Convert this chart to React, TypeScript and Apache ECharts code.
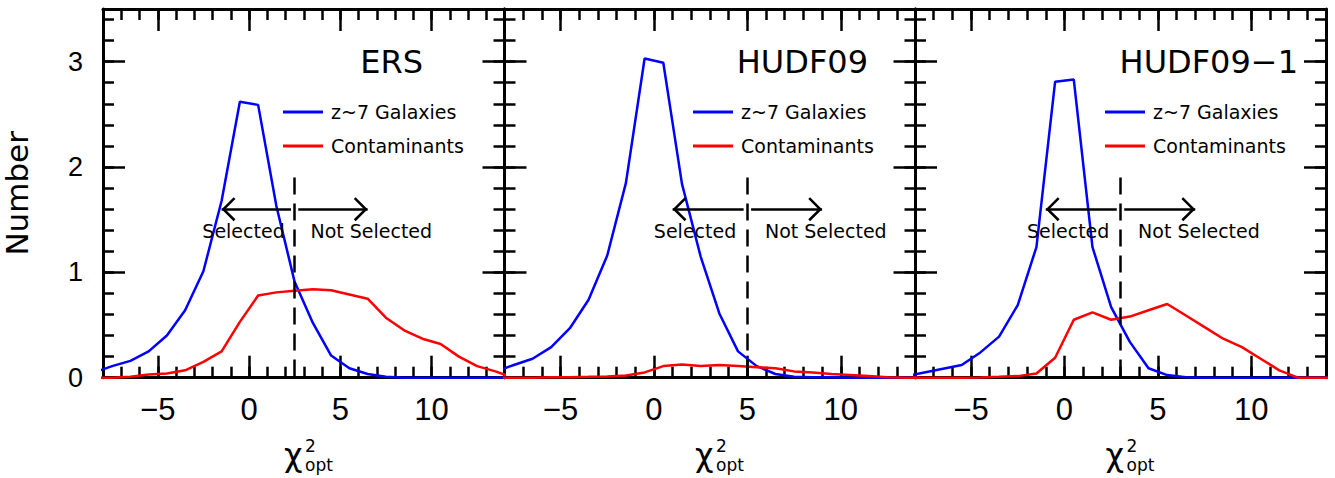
import React, { useEffect, useRef } from 'react';
import * as echarts from 'echarts';

// ---- data (bin centres and per-bin numbers) ----
const binCenters = [-8.5, -7.5, -6.5, -5.5, -4.5, -3.5, -2.5, -1.5, -0.5, 0.5, 1.5, 2.5, 3.5, 4.5, 5.5, 6.5, 7.5, 8.5, 9.5, 10.5, 11.5, 12.5, 13.5, 14.5];

const ersGalaxies = [0.05, 0.11, 0.16, 0.25, 0.40, 0.64, 1.01, 1.68, 2.62, 2.59, 1.63, 0.91, 0.52, 0.21, 0.09, 0.035, 0.01, 0, 0, 0, 0, 0, 0, 0];
const ersContaminants = [0, 0, 0.01, 0.03, 0.04, 0.07, 0.15, 0.25, 0.53, 0.78, 0.81, 0.825, 0.84, 0.83, 0.79, 0.75, 0.57, 0.45, 0.37, 0.32, 0.2, 0.11, 0.06, 0];

const hudfGalaxies = [0.06, 0.12, 0.18, 0.29, 0.47, 0.74, 1.16, 1.85, 3.03, 2.99, 1.84, 1.15, 0.61, 0.25, 0.11, 0.035, 0.01, 0.005, 0.005, 0, 0, 0, 0, 0];
const hudfContaminants = [0, 0, 0, 0.005, 0.005, 0.008, 0.012, 0.02, 0.05, 0.11, 0.125, 0.11, 0.12, 0.11, 0.1, 0.09, 0.06, 0.05, 0.035, 0.025, 0.015, 0.005, 0, 0];

const hudf1Galaxies = [0.015, 0.05, 0.085, 0.12, 0.24, 0.39, 0.69, 1.24, 2.81, 2.83, 1.24, 0.67, 0.34, 0.09, 0.025, 0.005, 0, 0, 0, 0, 0, 0, 0, 0];
const hudf1Contaminants = [0, 0, 0, 0, 0.003, 0.008, 0.015, 0.04, 0.19, 0.55, 0.62, 0.55, 0.58, 0.64, 0.70, 0.59, 0.48, 0.37, 0.29, 0.18, 0.07, 0, 0, 0];

const panelTitles = ['ERS', 'HUDF09', 'HUDF09\u22121'];
const seriesNames = ['z~7 Galaxies', 'Contaminants'];
const galaxySets = [ersGalaxies, hudfGalaxies, hudf1Galaxies];
const contaminantSets = [ersContaminants, hudfContaminants, hudf1Contaminants];
const cutValues = [2.5, 5, 3];
const xTickValues = [-5, 0, 5, 10];
const yTickValues = [0, 1, 2, 3];

// ---- layout / style ----
const X_MIN = -8;
const X_MAX = 14;
const Y_MIN = 0;
const Y_MAX = 3.5;
const GRID_LEFTS = [93.5, 504.5, 915];
const GRID_W = 411;
const GRID_TOP = 9;
const GRID_H = 368.7;
const BLUE = '#0000ff';
const RED = '#ff0000';
const NUM_FONT = '"Liberation Sans", Arial, sans-serif';
const TXT_FONT = '"DejaVu Sans", sans-serif';
const AXIS_W = 3;
const TICK_W = 2.5;
const MAJOR_LEN = 22;
const MINOR_LEN = 11;

// open chevron pointing "up" with its tip at the centre of its bounding box
const CHEVRON =
  'path://M0,12 L12,0 L24,12 L22.2,13.8 L12,3.6 L1.8,13.8 Z M-1.8,-13.8 L-1.79,-13.8 L-1.8,-13.79 Z M25.8,13.8 L25.79,13.8 L25.8,13.79 Z';
const CHEVRON_SIZE = 27.6;

const fmtNum = (v: number) => String(v).replace('-', '\u2212');

function buildOption() {
  const grids: any[] = [];
  const xAxes: any[] = [];
  const yAxes: any[] = [];
  const series: any[] = [];
  const legends: any[] = [];
  const graphics: any[] = [];

  const legendLefts = [283, 693, 1105];
  const titleRights = [423, 868, 1298];

  for (let i = 0; i < 3; i++) {
    grids.push({ left: GRID_LEFTS[i], top: GRID_TOP, width: GRID_W, height: GRID_H, containLabel: false });

    const baseX = {
      type: 'value',
      gridIndex: i,
      min: X_MIN,
      max: X_MAX,
      splitLine: { show: false },
    };
    // bottom major
    xAxes.push({
      ...baseX,
      position: 'bottom',
      axisLine: { show: true, onZero: false, lineStyle: { color: '#000', width: AXIS_W } },
      axisTick: { show: true, inside: true, length: MAJOR_LEN, customValues: xTickValues, lineStyle: { color: '#000', width: TICK_W } },
      axisLabel: {
        show: true,
        customValues: xTickValues,
        margin: 16,
        fontFamily: NUM_FONT,
        fontSize: 31,
        color: '#000',
        formatter: fmtNum,
      },
    });
    // bottom minor
    xAxes.push({
      ...baseX,
      position: 'bottom',
      interval: 1,
      axisLine: { show: false, onZero: false },
      axisTick: { show: true, inside: true, length: MINOR_LEN, lineStyle: { color: '#000', width: TICK_W } },
      axisLabel: { show: false },
    });
    // top major
    xAxes.push({
      ...baseX,
      position: 'top',
      axisLine: { show: true, onZero: false, lineStyle: { color: '#000', width: AXIS_W } },
      axisTick: { show: true, inside: true, length: MAJOR_LEN, customValues: xTickValues, lineStyle: { color: '#000', width: TICK_W } },
      axisLabel: { show: false },
    });
    // top minor
    xAxes.push({
      ...baseX,
      position: 'top',
      interval: 1,
      axisLine: { show: false, onZero: false },
      axisTick: { show: true, inside: true, length: MINOR_LEN, lineStyle: { color: '#000', width: TICK_W } },
      axisLabel: { show: false },
    });

    const baseY = {
      type: 'value',
      gridIndex: i,
      min: Y_MIN,
      max: Y_MAX,
      splitLine: { show: false },
    };
    // left major
    yAxes.push({
      ...baseY,
      position: 'left',
      axisLine: { show: true, onZero: false, lineStyle: { color: '#000', width: AXIS_W } },
      axisTick: { show: true, inside: true, length: MAJOR_LEN, customValues: yTickValues, lineStyle: { color: '#000', width: TICK_W } },
      axisLabel: {
        show: i === 0,
        customValues: yTickValues,
        margin: 20,
        fontFamily: NUM_FONT,
        fontSize: 27,
        color: '#000',
      },
      name: i === 0 ? 'Number' : '',
      nameLocation: 'middle',
      nameGap: 71,
      nameRotate: 90,
      nameTextStyle: { fontFamily: TXT_FONT, fontSize: 31, color: '#000' },
    });
    // left minor
    yAxes.push({
      ...baseY,
      position: 'left',
      interval: 0.2,
      axisLine: { show: false, onZero: false },
      axisTick: { show: true, inside: true, length: MINOR_LEN, lineStyle: { color: '#000', width: TICK_W } },
      axisLabel: { show: false },
    });
    // right major
    yAxes.push({
      ...baseY,
      position: 'right',
      axisLine: { show: true, onZero: false, lineStyle: { color: '#000', width: AXIS_W } },
      axisTick: { show: true, inside: true, length: MAJOR_LEN, customValues: yTickValues, lineStyle: { color: '#000', width: TICK_W } },
      axisLabel: { show: false },
    });
    // right minor
    yAxes.push({
      ...baseY,
      position: 'right',
      interval: 0.2,
      axisLine: { show: false, onZero: false },
      axisTick: { show: true, inside: true, length: MINOR_LEN, lineStyle: { color: '#000', width: TICK_W } },
      axisLabel: { show: false },
    });

    const cut = cutValues[i];
    const galaxies = galaxySets[i];
    const contaminants = contaminantSets[i];

    series.push({
      type: 'line',
      name: seriesNames[0],
      xAxisIndex: 4 * i,
      yAxisIndex: 4 * i,
      data: binCenters.map((x, k) => [x, galaxies[k]]),
      showSymbol: false,
      symbol: 'none',
      clip: true,
      z: 3,
      color: BLUE,
      lineStyle: { color: BLUE, width: 2.5 },
      markLine: {
        silent: true,
        symbol: 'none',
        label: { show: false },
        emphasis: { disabled: true },
        lineStyle: { color: '#000', width: 2.5, type: 'solid' },
        data: [
          [
            { coord: [cut, 1.9], lineStyle: { color: '#000', width: 2.5, type: [17, 9] } },
            { coord: [cut, 0] },
          ],
          [
            { coord: [cut - 0.2, 1.6], symbol: 'none' },
            { coord: [cut - 4, 1.6], symbol: CHEVRON, symbolSize: CHEVRON_SIZE },
          ],
          [
            { coord: [cut + 0.2, 1.6], symbol: 'none' },
            { coord: [cut + 4, 1.6], symbol: CHEVRON, symbolSize: CHEVRON_SIZE },
          ],
        ],
      },
      markPoint: {
        silent: true,
        symbol: 'circle',
        symbolSize: 1,
        itemStyle: { color: 'rgba(0,0,0,0)' },
        label: {
          show: true,
          position: 'inside',
          color: '#000',
          fontFamily: TXT_FONT,
          fontSize: 19,
          formatter: '{b}',
        },
        data: [
          { name: 'Selected', coord: [cut - 2.8, 1.39] },
          { name: 'Not Selected', coord: [cut + 4.2, 1.39] },
        ],
      },
    });
    series.push({
      type: 'line',
      name: seriesNames[1],
      xAxisIndex: 4 * i,
      yAxisIndex: 4 * i,
      data: binCenters.map((x, k) => [x, contaminants[k]]),
      showSymbol: false,
      symbol: 'none',
      clip: true,
      z: 3,
      color: RED,
      lineStyle: { color: RED, width: 2.5 },
    });

    legends.push({
      data: seriesNames,
      orient: 'vertical',
      left: legendLefts[i],
      top: 100,
      padding: 0,
      itemGap: 10,
      itemWidth: 40,
      itemHeight: 3,
      icon: 'rect',
      selectedMode: false,
      textStyle: {
        fontFamily: TXT_FONT,
        fontSize: 19,
        color: '#000',
        lineHeight: 24,
        padding: [0, 0, 0, 3],
      },
    });

    graphics.push({
      type: 'text',
      x: titleRights[i],
      y: 62,
      silent: true,
      style: {
        text: panelTitles[i],
        font: `32px ${TXT_FONT}`,
        fill: '#000',
        textAlign: 'right',
        textVerticalAlign: 'middle',
      },
    });

    // axis title: chi^2_opt (superscript 2 stacked over subscript "opt")
    const centre = GRID_LEFTS[i] + GRID_W / 2;
    graphics.push({
      type: 'text',
      x: centre - 15,
      y: 454.5,
      silent: true,
      style: { text: '\u03c7', font: `32px ${TXT_FONT}`, fill: '#000', textAlign: 'left', textVerticalAlign: 'middle' },
    });
    graphics.push({
      type: 'text',
      x: centre + 6,
      y: 446,
      silent: true,
      style: { text: '2', font: `17px ${TXT_FONT}`, fill: '#000', textAlign: 'left', textVerticalAlign: 'middle' },
    });
    graphics.push({
      type: 'text',
      x: centre + 6,
      y: 465,
      silent: true,
      style: { text: 'opt', font: `17px ${TXT_FONT}`, fill: '#000', textAlign: 'left', textVerticalAlign: 'middle' },
    });
  }

  return {
    animation: false,
    backgroundColor: '#ffffff',
    grid: grids,
    xAxis: xAxes,
    yAxis: yAxes,
    legend: legends,
    series,
    graphic: graphics,
  };
}

export default function App() {
  const ref = useRef<HTMLDivElement>(null);
  useEffect(() => {
    if (!ref.current) return;
    const chart = echarts.init(ref.current, null, { renderer: 'svg' });
    chart.setOption(buildOption() as any);
    return () => {
      chart.dispose();
    };
  }, []);
  return (
    <div
      ref={ref}
      style={{ position: 'fixed', left: 0, top: 0, width: 1335, height: 478, background: '#fff' }}
    />
  );
}
